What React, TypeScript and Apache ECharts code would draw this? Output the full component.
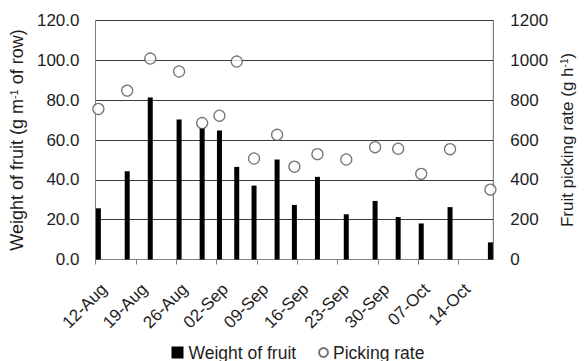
import React, { useEffect, useRef } from "react";
import * as echarts from "echarts";

// ---- data ----
const harvestDates = [
  "12-Aug", "17-Aug", "21-Aug", "26-Aug", "30-Aug", "02-Sep", "05-Sep", "08-Sep",
  "12-Sep", "15-Sep", "19-Sep", "24-Sep", "29-Sep", "03-Oct", "07-Oct", "12-Oct", "19-Oct",
];
const fruitWeight = [
  25.7, 44.3, 81.3, 70.3, 66.0, 64.8, 46.5, 37.1, 50.2, 27.4, 41.5, 22.7, 29.4, 21.3, 18.1, 26.3, 8.6,
];
const pickingRate = [
  756, 848, 1009, 944, 685, 722, 994, 507, 626, 466, 529, 502, 564, 556, 430, 554, 351,
];
const tickLabels = [
  "12-Aug", "19-Aug", "26-Aug", "02-Sep", "09-Sep", "16-Sep", "23-Sep", "30-Sep", "07-Oct", "14-Oct",
];
const axisStart = "12-Aug";
const axisEnd = "20-Oct";
const weightTicks = [0, 20, 40, 60, 80, 100, 120];
const rateTicks = [0, 200, 400, 600, 800, 1000, 1200];

const MONTHS = ["Jan", "Feb", "Mar", "Apr", "May", "Jun", "Jul", "Aug", "Sep", "Oct", "Nov", "Dec"];
const dayNumber = (s: string) => {
  const [d, m] = s.split("-");
  return Date.UTC(2000, MONTHS.indexOf(m), Number(d)) / 86400000;
};
const dayOffset = (s: string) => dayNumber(s) - dayNumber(axisStart);

const FONT = "'Liberation Sans', Arial, sans-serif";
const TEXT = "#1e1e1e";
const AXIS = "#808080";

export default function App() {
  const ref = useRef<HTMLDivElement>(null);

  useEffect(() => {
    if (!ref.current) return;
    const chart = echarts.init(ref.current, undefined, { renderer: "svg" });

    const span = dayOffset(axisEnd);
    const tickValues = tickLabels.map(dayOffset);
    const labelValues = tickValues.map((v) => v + 1.5);
    const barData = harvestDates.map((d, i) => [dayOffset(d) + 0.5, fruitWeight[i]]);
    const rateData = harvestDates.map((d, i) => [dayOffset(d) + 0.5, pickingRate[i]]);

    const wStep = weightTicks[1] - weightTicks[0];
    const rStep = rateTicks[1] - rateTicks[0];

    const legendText = { fontFamily: FONT, fontSize: 17.5, lineHeight: 16, color: TEXT };

    chart.setOption({
      animation: false,
      backgroundColor: "#fff",
      textStyle: { fontFamily: FONT, color: TEXT },
      grid: {
        left: 95.5,
        right: 82.5,
        top: 20.5,
        bottom: 101.5,
        show: true,
        borderColor: AXIS,
        borderWidth: 1,
        backgroundColor: "transparent",
      },
      legend: [
        {
          data: [{ name: "Weight of fruit", icon: "rect" }],
          left: 171.5,
          top: 343.5,
          padding: 0,
          itemWidth: 12,
          itemHeight: 12,
          selectedMode: false,
          textStyle: legendText,
        },
        {
          data: [{ name: "Picking rate", icon: "circle" }],
          left: 318,
          top: 343.5,
          padding: 0,
          itemWidth: 9,
          itemHeight: 9,
          selectedMode: false,
          textStyle: legendText,
        },
      ],
      xAxis: {
        type: "value",
        min: 0,
        max: span,
        axisLine: { show: true, lineStyle: { color: AXIS, width: 1 } },
        axisTick: {
          show: true,
          customValues: tickValues,
          length: 5,
          inside: false,
          lineStyle: { color: AXIS, width: 1 },
        },
        axisLabel: {
          customValues: labelValues,
          rotate: 45,
          margin: 27,
          fontSize: 17,
          fontFamily: FONT,
          color: TEXT,
          formatter: (v: number) => {
            const i = labelValues.findIndex((x) => Math.abs(x - v) < 1e-6);
            return i >= 0 ? tickLabels[i] : "";
          },
        },
        splitLine: { show: false },
      },
      yAxis: [
        {
          type: "value",
          position: "left",
          min: weightTicks[0],
          max: weightTicks[weightTicks.length - 1],
          interval: wStep,
          axisLine: { show: true, lineStyle: { color: AXIS, width: 1 } },
          axisTick: { show: false },
          axisLabel: {
            margin: 16,
            fontSize: 17,
            fontFamily: FONT,
            color: TEXT,
            formatter: (v: number) => v.toFixed(1),
          },
          splitLine: { show: true, lineStyle: { color: "#3c3c3c", width: 1 } },
          name: "Weight of fruit (g m{sup|-1} of row)",
          nameLocation: "middle",
          nameGap: 64,
          nameTextStyle: {
            fontFamily: FONT,
            fontSize: 18,
            color: TEXT,
            rich: {
              sup: { fontSize: 11, fontFamily: FONT, color: TEXT, verticalAlign: "top", lineHeight: 18 },
            },
          },
        },
        {
          type: "value",
          position: "right",
          min: rateTicks[0],
          max: rateTicks[rateTicks.length - 1],
          interval: rStep,
          axisLine: { show: true, lineStyle: { color: AXIS, width: 1 } },
          axisTick: { show: false },
          axisLabel: {
            margin: 17,
            fontSize: 17,
            fontFamily: FONT,
            color: TEXT,
            formatter: (v: number) => String(v),
          },
          splitLine: { show: false },
          name: "Fruit picking rate (g h{sup|-1})",
          nameLocation: "middle",
          nameGap: 64,
          nameTextStyle: {
            fontFamily: FONT,
            fontSize: 17,
            color: TEXT,
            rich: {
              sup: { fontSize: 10, fontFamily: FONT, color: TEXT, verticalAlign: "top", lineHeight: 17 },
            },
          },
        },
      ],
      series: [
        {
          name: "Weight of fruit",
          type: "bar",
          yAxisIndex: 0,
          barWidth: 5,
          itemStyle: { color: "#000" },
          data: barData,
        },
        {
          name: "Picking rate",
          type: "scatter",
          yAxisIndex: 1,
          symbol: "circle",
          symbolSize: 11,
          itemStyle: { color: "#fff", borderColor: "#555", borderWidth: 1.3 },
          data: rateData,
        },
      ],
    });

    return () => chart.dispose();
  }, []);

  return (
    <div
      ref={ref}
      style={{ position: "absolute", left: 0, top: 0, width: 584, height: 361, background: "#fff" }}
    />
  );
}
